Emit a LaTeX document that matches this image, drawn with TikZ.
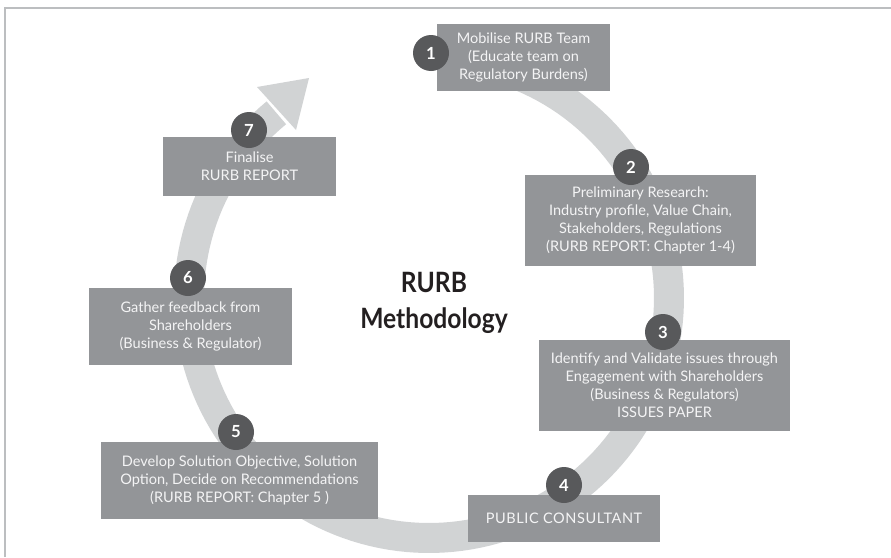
\documentclass[tikz,border=0pt]{standalone}
\usepackage{fontspec}
\setmainfont{Lato}
\newfontfamily\titlefont[FakeStretch=0.88]{Lato}
\definecolor{boxc}{HTML}{939598}
\definecolor{numc}{HTML}{58595B}
\definecolor{bandc}{HTML}{D1D3D4}
\definecolor{txtc}{HTML}{F4F4F5}
\definecolor{framec}{HTML}{BCBEC0}
\definecolor{titlec}{HTML}{231F20}
\tikzset{
  stepbox/.style={fill=boxc, text=txtc, align=center, inner sep=0pt,
    font=\fontsize{10.9}{13.6}\selectfont},
  num/.style={circle, fill=numc, text=white, minimum size=27pt, inner sep=0pt,
    font=\fontsize{12.5}{14}\bfseries\selectfont},
}
\begin{document}
\begin{tikzpicture}[x=0.75pt,y=-0.75pt]
\useasboundingbox (0,0) rectangle (891,557);
% frame
\draw[framec, line width=1pt] (5,557) -- (5,8) -- (891,8);
% cycle band
\draw[bandc, line width=22.5pt] plot[domain=-80:230.5, samples=150] ({429+240*cos(\x)},{298+240*sin(\x)});
\fill[bandc] (257,87) -- (309,78) -- (296,130) -- cycle;
% boxes
\node[stepbox, minimum width=129.75pt, minimum height=50.25pt] (b1) at (523.5,57.5)
  {Mobilise RURB Team\\(Educate team on\\Regulatory Burdens)};
\node[stepbox, minimum width=173.25pt, minimum height=68.25pt] (b2) at (640.5,220.5)
  {Preliminary Research:\\Industry profile, Value Chain,\\Stakeholders, Regulations\\(RURB REPORT: Chapter 1-4)};
\node[stepbox, minimum width=188.25pt, minimum height=68.25pt] (b3) at (664.5,385.5)
  {Identify and Validate issues through\\Engagement with Shareholders\\(Business \& Regulators)\\ISSUES PAPER};
\node[stepbox, minimum width=144pt, minimum height=35.25pt] (b4) at (564,518.5)
  {\addfontfeature{LetterSpace=4}PUBLIC CONSULTANT};
\node[stepbox, minimum width=207.75pt, minimum height=57.75pt] (b5) at (239.5,480.5)
  {Develop Solution Objective, Solution\\Option, Decide on Recommendations\\(RURB REPORT: Chapter 5 )};
\node[stepbox, minimum width=152.25pt, minimum height=57.75pt] (b6) at (190.5,326.5)
  {Gather feedback from\\Shareholders\\(Business \& Regulator)};
\node[stepbox, minimum width=129.75pt, minimum height=44.25pt] (b7) at (249.5,166.5)
  {Finalise\\RURB REPORT};
% numbers
\node[num] (n1) at (431,53) {1};
\node[num] (n2) at (631,167) {2};
\node[num] (n3) at (663,332) {3};
\node[num] (n4) at (564,485) {4};
\node[num] (n5) at (236,432) {5};
\node[num] (n6) at (188,278) {6};
\node[num] (n7) at (249,130) {7};
% title
\node[text=titlec, align=center, font=\titlefont\fontsize{21}{27}\bfseries\selectfont] (title) at (434,303)
  {RURB\\Methodology};
\end{tikzpicture}
\end{document}
